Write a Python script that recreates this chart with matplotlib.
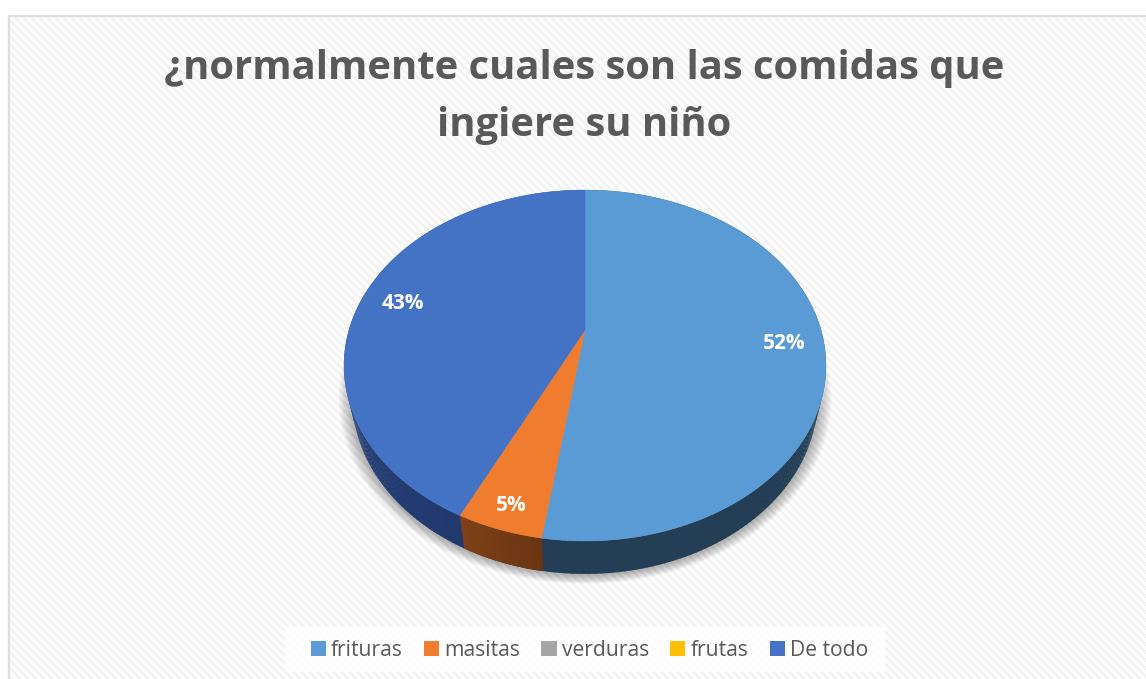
import numpy as np
import matplotlib
matplotlib.use("Agg")
import matplotlib.pyplot as plt
from matplotlib.patches import Polygon, Patch, Rectangle

# Chart data
categories = ["frituras", "masitas", "verduras", "frutas", "De todo"]
values = [52.4, 4.8, 0, 0, 42.9]
title = "¿normalmente cuales son las comidas que\ningiere su niño"

top_colors = ["#5B9BD5", "#F07D2F", "#A5A5A5", "#FFC000", "#4472C4"]
# side wall colours, start and end of each slice
wall_colors = [("#233E55", "#233E55"), ("#6A3513", "#7E4019"), ("#666666", "#666666"),
               ("#997300", "#997300"), ("#22396E", "#2D5390")]

W, H = 1146, 679
cx, cy = 585, 330   # where the slices meet on screen
a, b, k = 236, 168.3, 0.2023
depth = 33


def project(ang, r=1.0):
    # perspective view of the pie plane, ang is clockwise from the top
    u = r*np.sin(ang)
    v = r*np.cos(ang)
    d = 1 + k*v
    return cx + a*u/d, cy - b*v/d


def hexmix(c1, c2, t):
    c1 = np.array(matplotlib.colors.to_rgb(c1))
    c2 = np.array(matplotlib.colors.to_rgb(c2))
    return c1*(1-t) + c2*t


fig = plt.figure(figsize=(W/100, H/100), dpi=100)
ax = fig.add_axes([0, 0, 1, 1])
ax.set_xlim(0, W)
ax.set_ylim(H, 0)
ax.axis("off")

# striped background
yy, xx = np.mgrid[0:H, 0:W]
stripes = np.where(((xx - yy) % 8) < 4, 1.0, 0.955)
ax.imshow(stripes, cmap="gray", vmin=0, vmax=1, extent=(0, W, H, 0), aspect="auto",
          interpolation="bilinear", zorder=0)
ax.add_patch(Rectangle((0, 0), W, 15, fc="white", ec="none", zorder=1))
ax.add_patch(Rectangle((0, 0), 8, H, fc="white", ec="none", zorder=1))
ax.plot([9, 9, W], [H, 15.5, 15.5], color="#DEDEDE", lw=1.6, zorder=1)

# soft shadow under the pie
t = np.linspace(0, 2*np.pi, 361)
rx, ry = project(t)
for grow in np.arange(15, 0, -1.5):
    sx = cx + (rx - cx)*(0.965 + grow/260)
    sy = ry + depth + 1 + (ry - 365)*grow/300
    ax.add_patch(Polygon(np.column_stack([sx, sy]), fc="black", ec="none", alpha=0.03, zorder=2))

total = sum(values)
edges = np.cumsum([0] + values)/total*2*np.pi

# side wall, only the front part of the rim shows
for i in range(len(values)):
    if values[i] == 0:
        continue
    angs = np.linspace(edges[i], edges[i+1], 160)
    for j in range(len(angs)-1):
        x0, y0 = project(angs[j])
        x1, y1 = project(angs[j+1]+0.004)
        # lower rim is a little narrower
        s = 0.965
        col = hexmix(wall_colors[i][0], wall_colors[i][1], j/(len(angs)-2))
        ax.add_patch(Polygon([(x0, y0), (x1, y1), (cx+(x1-cx)*s, y1+depth), (cx+(x0-cx)*s, y0+depth)],
                             fc=col, ec="none", zorder=3))

# top face
for i in range(len(values)):
    if values[i] == 0:
        continue
    angs = np.linspace(edges[i], edges[i+1], 200)
    px, py = project(angs)
    pts = np.column_stack([np.r_[cx, px], np.r_[cy, py]])
    ax.add_patch(Polygon(pts, fc=top_colors[i], ec=top_colors[i], lw=0.3, zorder=4))

# percent labels
for i in range(len(values)):
    if values[i] == 0:
        continue
    mid = (edges[i] + edges[i+1])/2
    r = 0.9 if values[i] < 10 else 0.83
    lx, ly = project(mid, r)
    off = 0 if values[i] < 10 else 3.5
    ax.text(lx+1.5, ly+off, f"{values[i]/total*100:.0f}%", color="white", fontsize=15, fontweight="bold",
            family="Open Sans", ha="center", va="center", zorder=5)

ax.text(584, 97, title, ha="center", va="center", fontsize=28.8, fontweight="bold", family="Open Sans",
        color="#595959", linespacing=1.59, zorder=5)

handles = [Patch(fc=c, ec="none") for c in top_colors]
ax.add_patch(Rectangle((285, 627), 600, 45, fc="white", ec="none", alpha=0.85, zorder=5))
ax.legend(handles, categories, loc="center", bbox_to_anchor=(589.5/W, 1-650/H), ncol=5, frameon=False,
          prop={"family": "Open Sans", "size": 15.2}, labelcolor="#595959", handlelength=0.72, handleheight=0.72,
          handletextpad=0.25, columnspacing=1.0, borderpad=0).set_zorder(6)

fig.savefig("out.png", dpi=100)
